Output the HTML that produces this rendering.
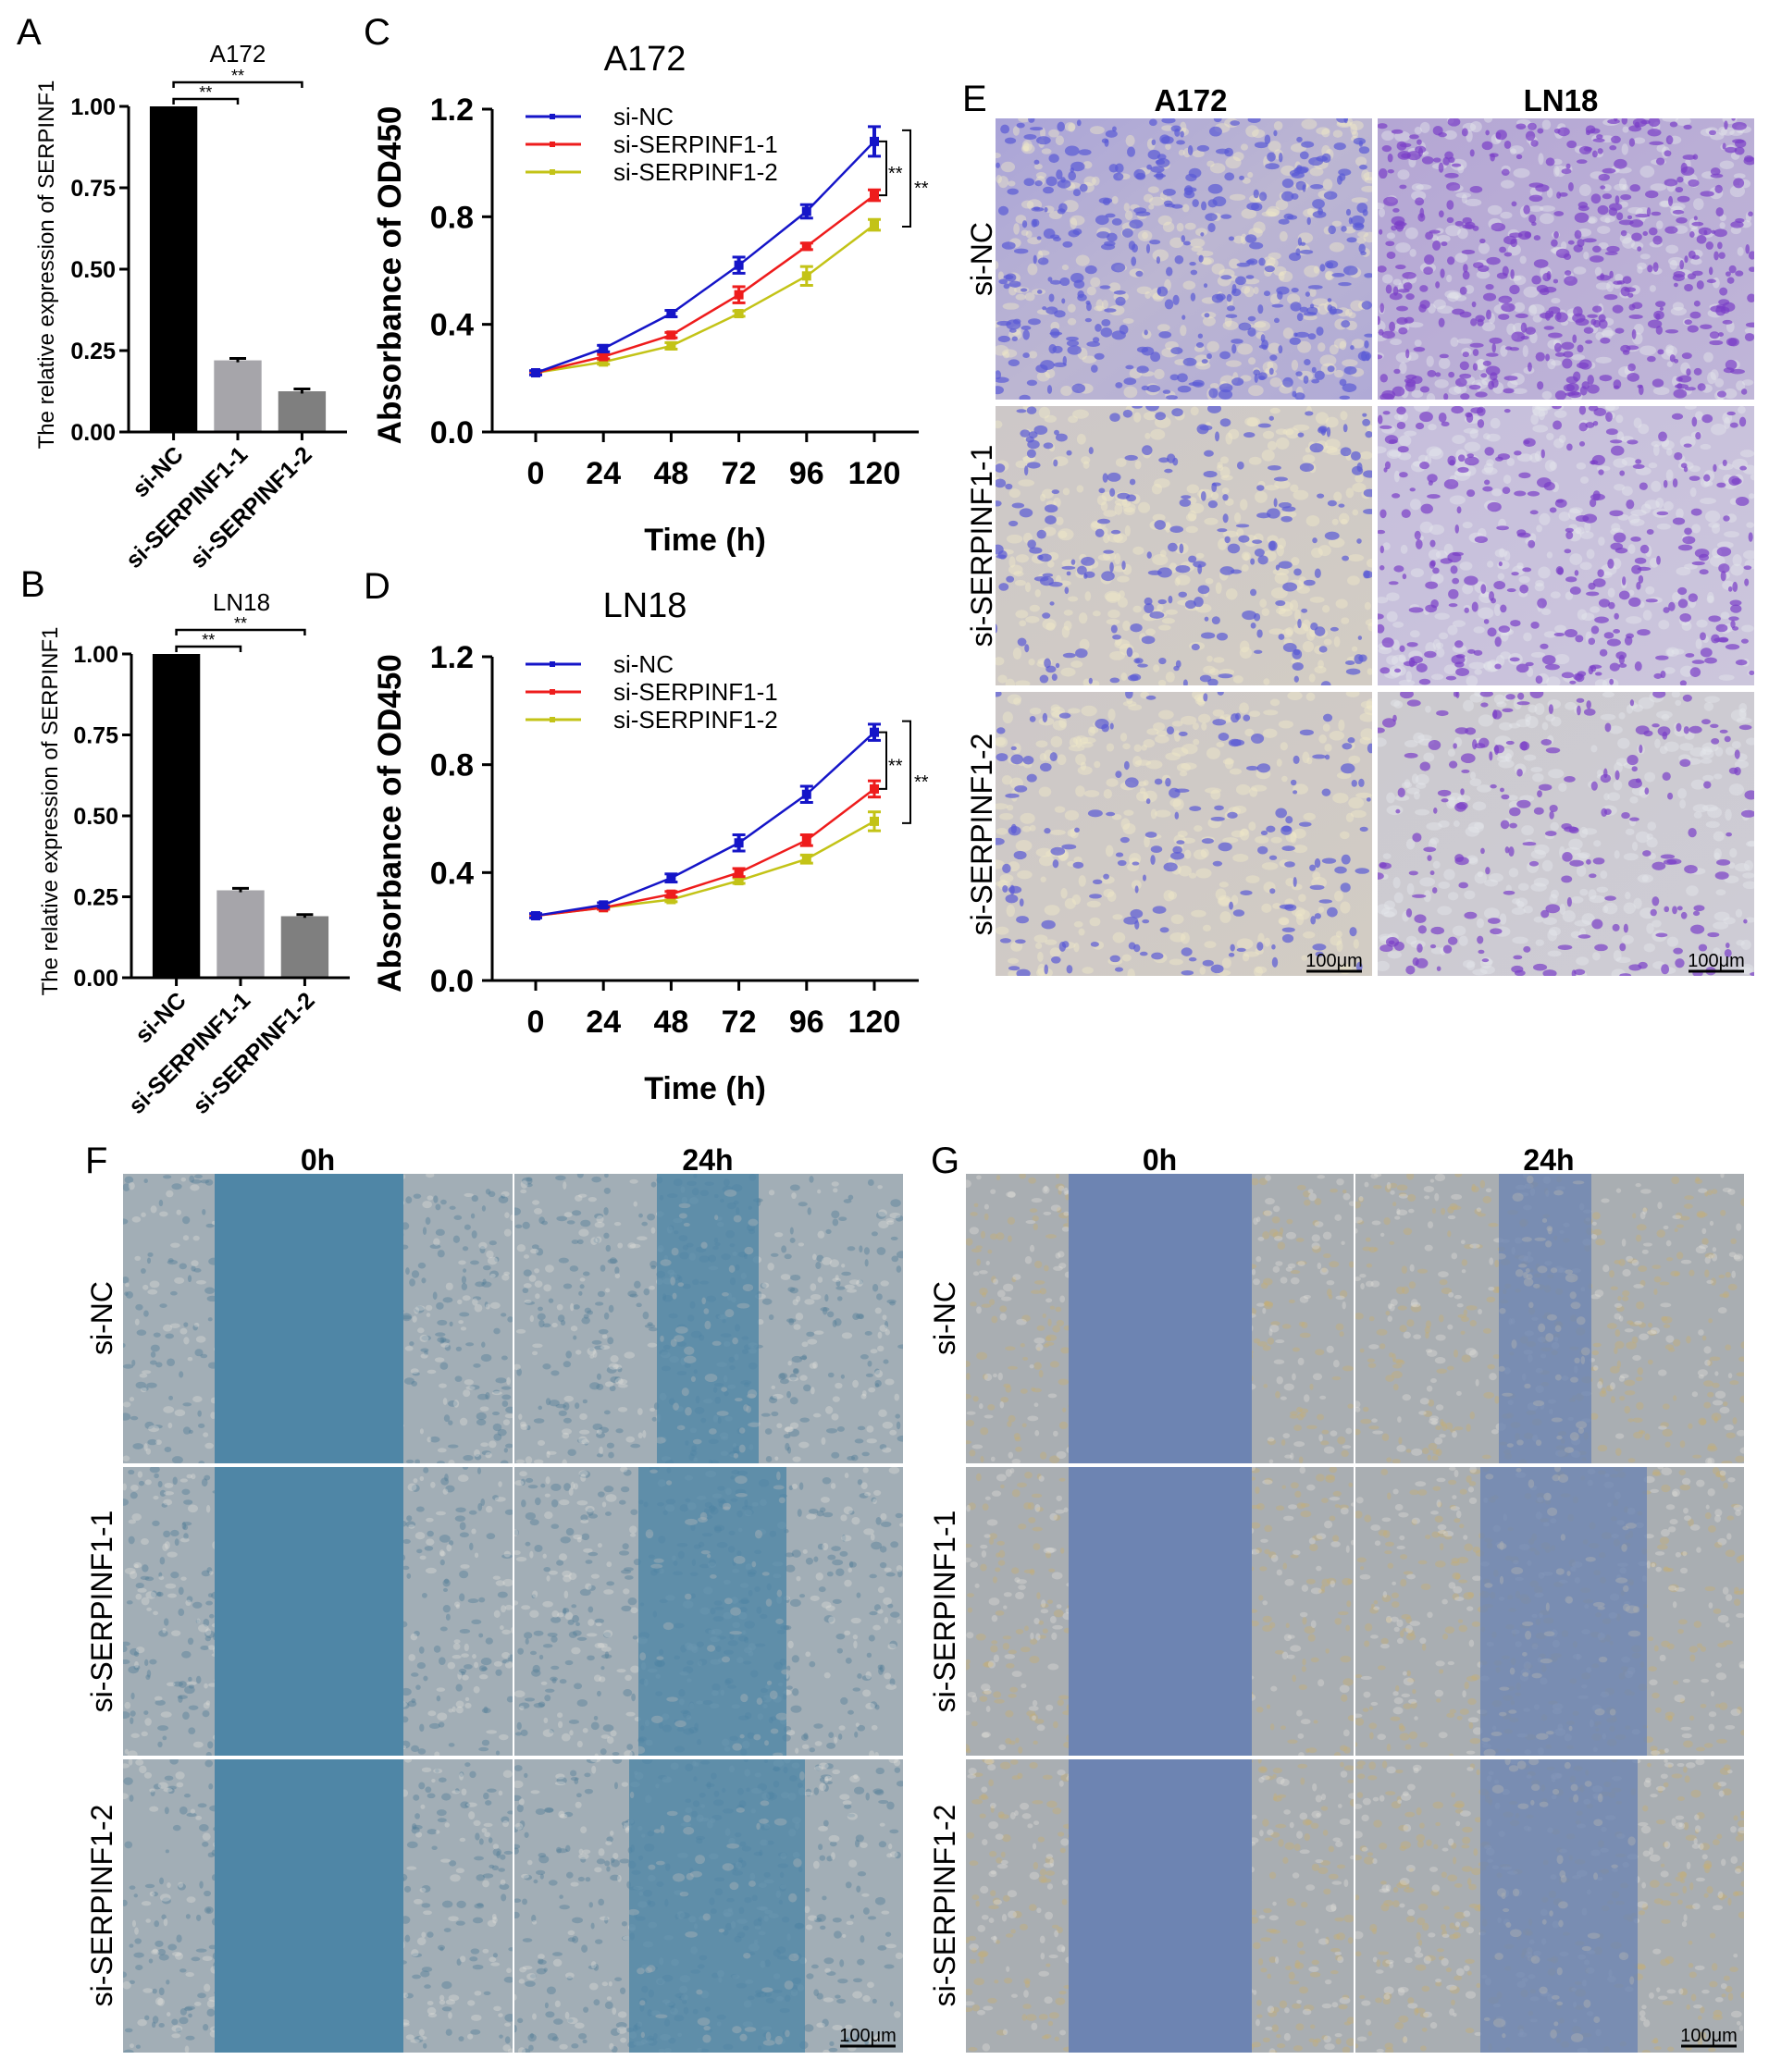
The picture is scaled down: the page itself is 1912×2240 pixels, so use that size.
<!DOCTYPE html>
<html><head><meta charset="utf-8">
<style>
html,body{margin:0;padding:0;background:#fff;}
svg{display:block;font-family:"Liberation Sans",Arial,sans-serif;}
</style></head>
<body>
<svg id="fig" width="1912" height="2240" viewBox="0 0 1912 2240" xmlns="http://www.w3.org/2000/svg">
<defs id="defs">
  <linearGradient id="gEA1" x1="0" y1="0" x2="1" y2="1"><stop offset="0" stop-color="#aaa4d8"/><stop offset="0.5" stop-color="#bcb6d2"/><stop offset="1" stop-color="#b0aad6"/></linearGradient>
  <linearGradient id="gEA2" x1="0" y1="0" x2="1" y2="1"><stop offset="0" stop-color="#cdc8c8"/><stop offset="1" stop-color="#d2ccc4"/></linearGradient>
  <linearGradient id="gEL1" x1="0" y1="0" x2="1" y2="1"><stop offset="0" stop-color="#b4a6d4"/><stop offset="1" stop-color="#c0b6d8"/></linearGradient>
  <linearGradient id="gEL2" x1="0" y1="0" x2="1" y2="1"><stop offset="0" stop-color="#c6bedc"/><stop offset="1" stop-color="#ccc6dc"/></linearGradient>
  <linearGradient id="gEL3" x1="0" y1="0" x2="1" y2="1"><stop offset="0" stop-color="#cccace"/><stop offset="1" stop-color="#ceccd6"/></linearGradient>
</defs>
<g id="charts"></g>
<g id="micro"></g>
</svg>
<script>
// ===== Data: bar charts (A, B) =====
const barCategories = ["si-NC", "si-SERPINF1-1", "si-SERPINF1-2"];
const barA172 = [1.0, 0.22, 0.125];
const barA172Err = [0.0, 0.006, 0.007];
const barLN18 = [1.0, 0.27, 0.19];
const barLN18Err = [0.0, 0.006, 0.005];
const barTicks = ["0.00", "0.25", "0.50", "0.75", "1.00"];

// ===== Data: line charts (C, D) =====
const timePoints = [0, 24, 48, 72, 96, 120];
const lineTicksY = ["0.0", "0.4", "0.8", "1.2"];
const seriesNames = ["si-NC", "si-SERPINF1-1", "si-SERPINF1-2"];
const a172NC = [0.22, 0.31, 0.44, 0.62, 0.82, 1.08];
const a172NCErr = [0.008, 0.012, 0.012, 0.03, 0.025, 0.055];
const a172S1 = [0.22, 0.28, 0.36, 0.51, 0.69, 0.88];
const a172S1Err = [0.006, 0.008, 0.01, 0.03, 0.012, 0.02];
const a172S2 = [0.22, 0.26, 0.32, 0.44, 0.58, 0.77];
const a172S2Err = [0.006, 0.008, 0.012, 0.01, 0.035, 0.02];
const ln18NC = [0.24, 0.28, 0.38, 0.51, 0.69, 0.92];
const ln18NCErr = [0.008, 0.008, 0.015, 0.03, 0.03, 0.03];
const ln18S1 = [0.24, 0.27, 0.32, 0.40, 0.52, 0.71];
const ln18S1Err = [0.006, 0.006, 0.01, 0.015, 0.02, 0.03];
const ln18S2 = [0.24, 0.27, 0.30, 0.37, 0.45, 0.59];
const ln18S2Err = [0.006, 0.006, 0.008, 0.01, 0.015, 0.035];

const NS = "http://www.w3.org/2000/svg";
const charts = document.getElementById("charts");
const defs = document.getElementById("defs");
function mk(tag, attrs, parent, text) {
  const e = document.createElementNS(NS, tag);
  for (const k in attrs) e.setAttribute(k, attrs[k]);
  if (text !== undefined) e.textContent = text;
  (parent || charts).appendChild(e);
  return e;
}

function barChart(cfg) {
  const g = mk("g", {});
  
  
  const y = v => cfg.y0 + (cfg.yTop - cfg.y0) * v;
  const barColors = ["#000000", "#a6a5aa", "#7f7f7f"];
  const n = barCategories.length;
  const step = (cfg.xEnd - cfg.axX) / (n + 0.4);
  const xc = i => cfg.axX + step * (0.7 + i);
  const bw = step * 0.74;
  cfg.values.forEach((v, i) => {
    const r = mk("rect", {x: xc(i) - bw / 2, y: y(v), width: bw, height: y(0) - y(v), fill: barColors[i]}, g);
    
    
    const e = cfg.errs[i];
    if (e > 0) {
      mk("line", {x1: xc(i), x2: xc(i), y1: y(v + e), y2: y(v - e), stroke: "#000", "stroke-width": 3}, g);
      mk("line", {x1: xc(i) - 9, x2: xc(i) + 9, y1: y(v + e), y2: y(v + e), stroke: "#000", "stroke-width": 3}, g);
    }
    mk("line", {x1: xc(i), x2: xc(i), y1: y(0), y2: y(0) + 9, stroke: "#000", "stroke-width": 3}, g);
    const t = mk("text", {x: xc(i) + 12, y: y(0) + 26, "font-size": 25, "font-weight": "bold", "text-anchor": "end",
      transform: `rotate(-45 ${xc(i) + 12} ${y(0) + 26})`}, g, barCategories[i]);
    
    
  });
  mk("line", {x1: cfg.axX, x2: cfg.axX, y1: y(1), y2: y(0) + 1.5, stroke: "#000", "stroke-width": 3}, g);
  mk("line", {x1: cfg.axX, x2: cfg.xEnd, y1: y(0), y2: y(0), stroke: "#000", "stroke-width": 3}, g);
  barTicks.forEach(tk => {
    const v = parseFloat(tk);
    mk("line", {x1: cfg.axX - 10, x2: cfg.axX, y1: y(v), y2: y(v), stroke: "#000", "stroke-width": 3}, g);
    const t = mk("text", {x: cfg.axX - 14, y: y(v) + 9, "font-size": 25, "font-weight": "bold", "text-anchor": "end"}, g, tk);
    
    
  });
  const ym = (y(0) + y(1)) / 2 - 5;
  const yt = mk("text", {x: cfg.ytX, y: ym, "font-size": 24, "text-anchor": "middle",
    transform: `rotate(-90 ${cfg.ytX} ${ym})`}, g, "The relative expression of SERPINF1");
  
  
  const tt = mk("text", {x: cfg.titleX, y: cfg.titleY, "font-size": 26, "text-anchor": "middle"}, g, cfg.title);
  
  
  [[1, y(1) - 8], [2, y(1) - 26]].forEach(([j, by]) => {
    mk("path", {d: `M${xc(0)},${by + 6} V${by} H${xc(j)} V${by + 6}`, fill: "none", stroke: "#000", "stroke-width": 2.5}, g);
    mk("text", {x: (xc(0) + xc(j)) / 2, y: by - 1, "font-size": 18, "text-anchor": "middle"}, g, "**");
  });
  const L = mk("text", {x: cfg.letterX, y: cfg.letterY, "font-size": 40}, g, cfg.letter);
  
  
}

barChart({name: "bar-chart-a172", axX: 139, y0: 467, yTop: 115, xEnd: 375, values: barA172, errs: barA172Err,
  ytX: 58, title: "A172", titleX: 257, titleY: 67, letter: "A", letterX: 18, letterY: 48});
barChart({name: "bar-chart-ln18", axX: 142, y0: 1057, yTop: 707, xEnd: 378, values: barLN18, errs: barLN18Err,
  ytX: 62, title: "LN18", titleX: 261, titleY: 660, letter: "B", letterX: 22, letterY: 645});

function lineChart(cfg) {
  const g = mk("g", {});
  
  
  const X = t => 579 + (945 - 579) * t / 120;
  const Y = v => cfg.y0 + (cfg.yTop - cfg.y0) * v / 1.2;
  const colors = ["#1515c8", "#ee1c1c", "#c3c317"];
  mk("line", {x1: 532, x2: 532, y1: Y(1.2), y2: Y(0) + 1.5, stroke: "#000", "stroke-width": 3}, g);
  mk("line", {x1: 532, x2: 993, y1: Y(0), y2: Y(0), stroke: "#000", "stroke-width": 3}, g);
  lineTicksY.forEach(tk => {
    const v = parseFloat(tk);
    mk("line", {x1: 521, x2: 532, y1: Y(v), y2: Y(v), stroke: "#000", "stroke-width": 3}, g);
    const t = mk("text", {x: 512, y: Y(v) + 12, "font-size": 34, "font-weight": "bold", "text-anchor": "end"}, g, tk);
    
    
  });
  timePoints.forEach(tp => {
    mk("line", {x1: X(tp), x2: X(tp), y1: Y(0), y2: Y(0) + 11, stroke: "#000", "stroke-width": 3}, g);
    const t = mk("text", {x: X(tp), y: Y(0) + 56, "font-size": 34, "font-weight": "bold", "text-anchor": "middle"}, g, String(tp));
    
    
  });
  const xt = mk("text", {x: 762, y: Y(0) + 128, "font-size": 34, "font-weight": "bold", "text-anchor": "middle"}, g, "Time (h)");
  
  
  const ym = (Y(0) + Y(1.2)) / 2 + 5;
  const yt = mk("text", {x: 433, y: ym, "font-size": 35, "font-weight": "bold", "text-anchor": "middle",
    transform: `rotate(-90 433 ${ym})`}, g, "Absorbance of OD450");
  
  
  const tt = mk("text", {x: 697, y: cfg.titleY, "font-size": 38, "text-anchor": "middle"}, g, cfg.title);
  
  
  const L = mk("text", {x: 393, y: cfg.letterY, "font-size": 40}, g, cfg.letter);
  
  
  [2, 1, 0].forEach(si => {
    const vals = cfg.series[si], errs = cfg.errs[si];
    const pl = mk("polyline", {points: timePoints.map((tp, i) => X(tp) + "," + Y(vals[i])).join(" "),
      fill: "none", stroke: colors[si], "stroke-width": 2.5}, g);
    
    
    timePoints.forEach((tp, i) => {
      const x = X(tp), yv = Y(vals[i]), e = errs[i];
      const sw = si === 0 ? 4 : 3;
      mk("line", {x1: x, x2: x, y1: Y(vals[i] + e), y2: Y(vals[i] - e), stroke: colors[si], "stroke-width": sw}, g);
      mk("line", {x1: x - 7, x2: x + 7, y1: Y(vals[i] + e), y2: Y(vals[i] + e), stroke: colors[si], "stroke-width": 3}, g);
      mk("line", {x1: x - 7, x2: x + 7, y1: Y(vals[i] - e), y2: Y(vals[i] - e), stroke: colors[si], "stroke-width": 3}, g);
      const m = mk("rect", {x: x - 5, y: yv - 5, width: 10, height: 10, fill: colors[si]}, g);
      
      
    });
  });
  seriesNames.forEach((nm, i) => {
    const ly = cfg.legY + i * 30;
    const lg = mk("g", {}, g);
    
    
    mk("line", {x1: 568, x2: 628, y1: ly, y2: ly, stroke: colors[i], "stroke-width": 3}, lg);
    mk("rect", {x: 594, y: ly - 3, width: 6, height: 6, fill: colors[i]}, lg);
    mk("text", {x: 663, y: ly + 9, "font-size": 26}, lg, nm);
  });
  const last = timePoints.length - 1;
  const yN = Y(cfg.series[0][last]), y1 = Y(cfg.series[1][last]), y2 = Y(cfg.series[2][last]);
  mk("path", {d: `M950,${yN} H958 V${y1} H950`, fill: "none", stroke: "#000", "stroke-width": 2}, g);
  mk("text", {x: 960, y: (yN + y1) / 2 + 12, "font-size": 20}, g, "**");
  mk("path", {d: `M975,${yN - 12} H984 V${y2 + 2} H975`, fill: "none", stroke: "#000", "stroke-width": 2}, g);
  mk("text", {x: 988, y: (yN + y2) / 2 + 12, "font-size": 20}, g, "**");
}

lineChart({name: "line-chart-a172", y0: 467, yTop: 118, title: "A172", titleY: 76, letter: "C", letterY: 48,
  legY: 126, series: [a172NC, a172S1, a172S2], errs: [a172NCErr, a172S1Err, a172S2Err]});
lineChart({name: "line-chart-ln18", y0: 1060, yTop: 710, title: "LN18", titleY: 667, letter: "D", letterY: 647,
  legY: 718, series: [ln18NC, ln18S1, ln18S2], errs: [ln18NCErr, ln18S1Err, ln18S2Err]});

// ===== Micrograph panels (decorative) =====
const micro = document.getElementById("micro");
let seed = 7, clipId = 0;
function rnd() { seed = (seed * 16807) % 2147483647; return seed / 2147483647; }
function clipped(parent, x, y, w, h) {
  const id = "clip" + (clipId++);
  const cp = mk("clipPath", {id: id}, defs);
  mk("rect", {x: x, y: y, width: w, height: h}, cp);
  return mk("g", {"clip-path": `url(#${id})`}, parent);
}
function speckle(g, x, y, w, h, n, color, rmin, rmax, op) {
  for (let i = 0; i < n; i++) {
    mk("ellipse", {cx: x + rnd() * w, cy: y + rnd() * h, rx: rmin + rnd() * (rmax - rmin), ry: rmin + rnd() * (rmax - rmin) * 0.6,
      fill: color, opacity: op}, g);
  }
}
function label(g, x, y, txt, size, bold, rot) {
  return mk("text", {x: x, y: y, "font-size": size, "font-weight": bold ? "bold" : "normal",
    "text-anchor": "middle", transform: rot ? `rotate(-90 ${x} ${y})` : ""}, g, txt);
}
function scaleBar(g, xr, yb) {
  mk("line", {x1: xr - 60, x2: xr, y1: yb, y2: yb, stroke: "#000", "stroke-width": 3}, g);
  mk("text", {x: xr - 30, y: yb - 5, "font-size": 20, "text-anchor": "middle"}, g, "100μm");
}

// Panel E
const gE = mk("g", {}, micro);


const eRows = [[128, 432], [439, 741], [748, 1055]];
const eCols = [[1076, 1483], [1489, 1896]];
const eFill = [["url(#gEA1)", "url(#gEL1)"], ["url(#gEA2)", "url(#gEL2)"], ["url(#gEA2)", "url(#gEL3)"]];
const eDens = [[380, 460], [230, 300], [170, 210]];
eRows.forEach((r, ri) => eCols.forEach((c, ci) => {
  const cell = clipped(gE, c[0], r[0], c[1] - c[0], r[1] - r[0]);
  
  
  mk("rect", {x: c[0], y: r[0], width: c[1] - c[0], height: r[1] - r[0], fill: eFill[ri][ci]}, cell);
  speckle(cell, c[0], r[0], c[1] - c[0], r[1] - r[0], 300, ci === 0 ? "#f0e8c8" : "#e4e6ea", 3, 9, 0.45);
  speckle(cell, c[0], r[0], c[1] - c[0], r[1] - r[0], eDens[ri][ci], ci === 0 ? "#5a5ad6" : "#7a3fc8", 2, 8, 0.7);
}));
label(gE, 1287, 120, "A172", 33, true);
label(gE, 1687, 120, "LN18", 33, true);
label(gE, 1072, 280, "si-NC", 32, false, true);
label(gE, 1072, 590, "si-SERPINF1-1", 32, false, true);
label(gE, 1072, 902, "si-SERPINF1-2", 32, false, true);
mk("text", {x: 1040, y: 120, "font-size": 40}, gE, "E");
scaleBar(gE, 1472, 1050);
scaleBar(gE, 1885, 1050);

// Panels F and G
function woundPanel(name, x0, xm, x1, letter, letX, cellColor, woundColor, wound0, wound24, dotColor) {
  const g = mk("g", {}, micro);
  
  
  const rows = [[1269, 1582], [1586, 1898], [1902, 2219]];
  rows.forEach((r, ri) => {
    [[x0, xm], [xm + 2, x1]].forEach((c, ci) => {
      const cell = clipped(g, c[0], r[0], c[1] - c[0], r[1] - r[0]);
      
      
      mk("rect", {x: c[0], y: r[0], width: c[1] - c[0], height: r[1] - r[0], fill: cellColor}, cell);
      speckle(cell, c[0], r[0], c[1] - c[0], r[1] - r[0], 320, dotColor, 2, 6, 0.4);
      speckle(cell, c[0], r[0], c[1] - c[0], r[1] - r[0], 220, "#e6e2dc", 2, 6, 0.35);
      if (ci === 0) {
        mk("rect", {x: wound0[0], y: r[0], width: wound0[1] - wound0[0], height: r[1] - r[0], fill: woundColor}, cell);
      } else {
        const w = wound24[ri];
        mk("rect", {x: w[0], y: r[0], width: w[1] - w[0], height: r[1] - r[0], fill: woundColor, opacity: 0.8}, cell);
        speckle(cell, w[0], r[0], w[1] - w[0], r[1] - r[0], 50, cellColor, 2, 7, 0.5);
      }
    });
  });
  mk("rect", {x: xm, y: 1269, width: 2, height: 950, fill: "#fff"}, g);
  label(g, (x0 + xm) / 2, 1265, "0h", 32, true);
  label(g, (xm + x1) / 2, 1265, "24h", 32, true);
  mk("text", {x: letX, y: 1268, "font-size": 40}, g, letter);
  label(g, x0 - 12, 1425, "si-NC", 32, false, true);
  label(g, x0 - 12, 1742, "si-SERPINF1-1", 32, false, true);
  label(g, x0 - 12, 2060, "si-SERPINF1-2", 32, false, true);
  scaleBar(g, x1 - 8, 2212);
}
woundPanel("wound-healing-panel-f", 133, 554, 976, "F", 92, "#a2aeb6", "#4f86a6", [232, 436],
  [[710, 820], [690, 850], [680, 870]], "#4d7a96");
woundPanel("wound-healing-panel-g", 1044, 1463, 1885, "G", 1006, "#a9aeb2", "#6d84b2", [1155, 1353],
  [[1620, 1720], [1600, 1780], [1600, 1770]], "#c8b070");
</script>
</body></html>
